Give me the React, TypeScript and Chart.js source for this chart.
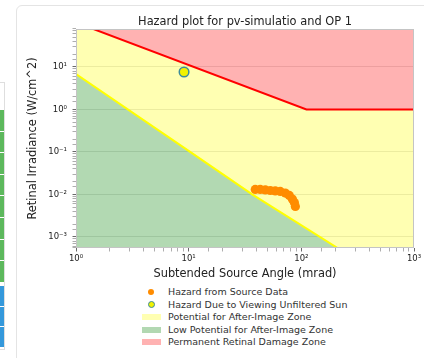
import React, { useEffect, useRef } from "react";
import { Chart, registerables } from "chart.js";

Chart.register(...registerables);

const titleText = "Hazard plot for pv-simulatio and OP 1";
const xAxisTitle = "Subtended Source Angle (mrad)";
const yAxisTitle = "Retinal Irradiance (W/cm^2)";

const xMin = 1;
const xMax = 1000;
const yMin = 5.5e-4;
const yMax = 78;

const xTickValues = [1, 10, 100, 1000];
const xTickLabels = ["10⁰", "10¹", "10²", "10³"];
const yTickValues = [0.001, 0.01, 0.1, 1, 10];
const yTickLabels = ["10⁻³", "10⁻²", "10⁻¹", "10⁰", "10¹"];

// Hazard from Source Data (mrad, W/cm^2)
const sourceAngles = [39.0, 43.2, 47.9, 53.0, 58.7, 65.0, 72.1, 78.2, 83.2, 86.7, 88.5];
const sourceIrradiance = [0.0131, 0.0131, 0.0128, 0.0124, 0.0121, 0.0118, 0.0108, 0.0095, 0.0078, 0.0065, 0.0052];

// Hazard Due to Viewing Unfiltered Sun
const sunAngles = [9.1];
const sunIrradiance = [7.6];

// Permanent retinal damage threshold (red line)
const burnAngles = [1, 111, 1000];
const burnIrradiance = [111, 1, 1];

// After-image threshold (yellow line)
const afterAngles = [1, 10, 36.6, 210, 1000];
const afterIrradiance = [6.8, 0.106, 0.01, 5.5e-4, 4.1e-5];

const legendLabels = [
  "Hazard from Source Data",
  "Hazard Due to Viewing Unfiltered Sun",
  "Potential for After-Image Zone",
  "Low Potential for After-Image Zone",
  "Permanent Retinal Damage Zone",
];

const greenCells = [0, 1, 2, 3, 4, 5, 6, 7];
const blueCells = [0, 1, 2];

const toPoints = (xs: number[], ys: number[]) => xs.map((x, i) => ({ x, y: ys[i] }));

const matchLabel = (value: number, vals: number[], labels: string[]) => {
  const i = vals.findIndex((t) => Math.abs(Math.log10(t) - Math.log10(value)) < 1e-6);
  return i >= 0 ? labels[i] : "";
};

const isMajorOf = (value: number | undefined, vals: number[]) =>
  value !== undefined && vals.some((t) => Math.abs(Math.log10(t) - Math.log10(value)) < 1e-6);

const FONT = "'DejaVu Sans', Verdana, sans-serif";

const framePlugin = {
  id: "frame",
  afterDatasetsDraw(chart: any) {
    const { ctx, chartArea } = chart;
    ctx.save();
    ctx.strokeStyle = "#c4c4c4";
    ctx.lineWidth = 1;
    ctx.strokeRect(
      Math.round(chartArea.left) + 0.5,
      Math.round(chartArea.top) + 0.5,
      Math.round(chartArea.right - chartArea.left) - 1,
      Math.round(chartArea.bottom - chartArea.top) - 1
    );
    ctx.restore();
  },
};

export default function App() {
  const canvasRef = useRef<HTMLCanvasElement | null>(null);

  useEffect(() => {
    if (!canvasRef.current) return;
    const chart = new Chart(canvasRef.current, {
      type: "scatter",
      data: {
        datasets: [
          {
            label: legendLabels[0],
            data: toPoints(sourceAngles, sourceIrradiance),
            backgroundColor: "#ff8c00",
            borderWidth: 0,
            pointRadius: 4.6,
            order: 0,
          },
          {
            label: legendLabels[1],
            data: toPoints(sunAngles, sunIrradiance),
            backgroundColor: "#f2f200",
            borderColor: "#3d8c9c",
            borderWidth: 1.5,
            pointRadius: 4.8,
            order: 0,
          },
          {
            label: legendLabels[2],
            data: toPoints(burnAngles, burnIrradiance),
            showLine: true,
            pointRadius: 0,
            borderWidth: 0,
            borderColor: "rgba(0,0,0,0)",
            backgroundColor: "rgba(255,255,0,0.3)",
            fill: { target: 3 },
            order: 3,
          },
          {
            label: legendLabels[3],
            data: toPoints(afterAngles, afterIrradiance),
            showLine: true,
            pointRadius: 0,
            borderWidth: 2,
            borderColor: "#ffff00",
            backgroundColor: "rgba(0,128,0,0.3)",
            fill: "start",
            order: 2,
          },
          {
            label: legendLabels[4],
            data: toPoints(burnAngles, burnIrradiance),
            showLine: true,
            pointRadius: 0,
            borderWidth: 2,
            borderColor: "#ff0000",
            backgroundColor: "rgba(255,0,0,0.3)",
            fill: "end",
            order: 1,
          },
        ],
      },
      options: {
        responsive: false,
        animation: false,
        events: [],
        layout: { padding: { top: 10.3, right: 10, left: 0, bottom: 0 } },
        plugins: {
          legend: { display: false },
          tooltip: { enabled: false },
          filler: { drawTime: "beforeDatasetsDraw" },
          title: {
            display: true,
            text: titleText,
            fullSize: false,
            color: "#222",
            font: { family: FONT, size: 11.4, weight: "normal" },
            padding: { top: 0, bottom: 0 },
          },
        },
        scales: {
          x: {
            type: "logarithmic",
            min: xMin,
            max: xMax,
            afterFit: (s: any) => {
              s.height = 37;
            },
            border: { display: false },
            grid: {
              drawOnChartArea: false,
              tickLength: 3.5,
              tickWidth: 0.8,
              tickColor: (c: any) => (isMajorOf(c.tick?.value, xTickValues) ? "#444" : "#999"),
            },
            ticks: {
              autoSkip: false,
              maxRotation: 0,
              padding: 2.5,
              color: "#222",
              font: { family: FONT, size: 8.5 },
              callback: (v: any) => matchLabel(Number(v), xTickValues, xTickLabels),
            },
            title: {
              display: true,
              text: xAxisTitle,
              color: "#222",
              font: { family: FONT, size: 11.4 },
              padding: { top: 0, bottom: 4.2 },
            },
          },
          y: {
            type: "logarithmic",
            min: yMin,
            max: yMax,
            afterFit: (s: any) => {
              s.width = 59;
            },
            border: { display: false },
            grid: {
              color: (c: any) => (isMajorOf(c.tick?.value, yTickValues) ? "#dcdcdc" : "rgba(0,0,0,0)"),
              lineWidth: 0.8,
              tickLength: 3.5,
              tickWidth: 0.8,
              tickColor: (c: any) => (isMajorOf(c.tick?.value, yTickValues) ? "#444" : "#999"),
            },
            ticks: {
              autoSkip: false,
              padding: 5.5,
              color: "#222",
              font: { family: FONT, size: 8.5 },
              callback: (v: any) => matchLabel(Number(v), yTickValues, yTickLabels),
            },
            title: {
              display: true,
              text: yAxisTitle,
              color: "#222",
              font: { family: FONT, size: 11.4 },
              padding: { top: 9, bottom: 0 },
            },
          },
        },
      },
      plugins: [framePlugin],
    } as any);
    return () => chart.destroy();
  }, []);

  const swatch = (bg: string) => (
    <span style={{ display: "inline-block", width: 19, height: 6, background: bg }} />
  );
  const markers = [
    <span style={{ display: "inline-block", width: 6, height: 6, borderRadius: "50%", background: "#ff8c00" }} />,
    <span
      style={{
        display: "inline-block",
        width: 5,
        height: 5,
        borderRadius: "50%",
        background: "#f2f200",
        border: "1.5px solid #3d8c9c",
      }}
    />,
    swatch("rgb(255,255,178)"),
    swatch("rgb(178,216,178)"),
    swatch("rgb(255,178,178)"),
  ];

  return (
    <div
      style={{
        position: "fixed",
        left: 0,
        top: 0,
        width: 424,
        height: 358,
        overflow: "hidden",
        background: "#fff",
      }}
    >
      {/* partial side panel */}
      <div
        style={{
          position: "absolute",
          left: -20,
          top: 82,
          width: 25,
          height: 268,
          border: "1px solid #dedede",
          boxSizing: "border-box",
        }}
      />
      {greenCells.map((i) => (
        <div
          key={"g" + i}
          style={{
            position: "absolute",
            left: 0,
            top: 110 + i * 21.6,
            width: 4,
            height: 20.6,
            background: "#5cb85c",
          }}
        />
      ))}
      {blueCells.map((i) => (
        <div
          key={"b" + i}
          style={{
            position: "absolute",
            left: 0,
            top: 286 + i * 20.7,
            width: 4,
            height: 19.7,
            background: "#3498db",
          }}
        />
      ))}
      {/* card */}
      <div
        style={{
          position: "absolute",
          left: 16,
          top: 5,
          width: 440,
          height: 400,
          border: "1px solid #e4e4e4",
          borderRadius: 6,
          background: "#fff",
          boxSizing: "border-box",
        }}
      />
      <canvas
        ref={canvasRef}
        width={407}
        height={280}
        style={{ position: "absolute", left: 17, top: 5, width: 407, height: 280 }}
      />
      {legendLabels.map((lbl, i) => (
        <div
          key={lbl}
          style={{
            position: "absolute",
            left: 141,
            top: 286.3 + i * 12.5,
            height: 12,
            display: "flex",
            alignItems: "center",
            whiteSpace: "nowrap",
          }}
        >
          <span style={{ width: 20, display: "inline-flex", justifyContent: "center", alignItems: "center" }}>
            {markers[i]}
          </span>
          <span style={{ marginLeft: 7, fontFamily: FONT, fontSize: 9.5, color: "#333", lineHeight: "12px" }}>
            {lbl}
          </span>
        </div>
      ))}
    </div>
  );
}
